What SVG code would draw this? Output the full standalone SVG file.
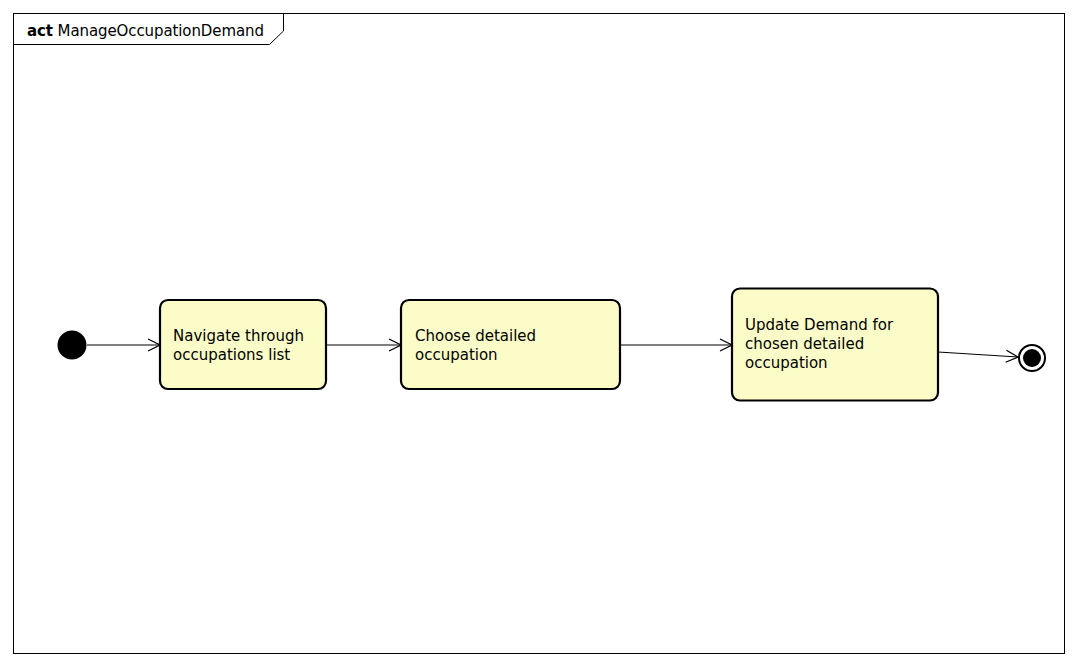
<svg xmlns="http://www.w3.org/2000/svg" width="1078" height="666" viewBox="0 0 1078 666">
<style>
.node rect{fill:#fcfcc8;stroke:#000;stroke-width:2.2}
.lbl{font-family:"DejaVu Sans",sans-serif;font-size:15px;fill:#000}
.conn line{stroke:#000;stroke-width:1.2;fill:none}
</style>
<defs>
<marker id="arr" viewBox="0 0 14 14" refX="13" refY="7" markerWidth="14" markerHeight="14" markerUnits="userSpaceOnUse" orient="auto">
<path d="M1,1 L13,7 L1,13" fill="none" stroke="#000" stroke-width="1.2"/>
</marker>
</defs>
<rect width="1078" height="666" fill="#fff"/>
<g id="frame">
<rect x="13.5" y="13.5" width="1051" height="640" fill="none" stroke="#000" stroke-width="1"/>
<path d="M13.5,44.5 L269.5,44.5 L283.5,31 L283.5,13.5" fill="none" stroke="#000" stroke-width="1"/>
<text x="27" y="36" font-family="DejaVu Sans,sans-serif" font-size="15" fill="#000" textLength="237"><tspan font-weight="bold">act</tspan> ManageOccupationDemand</text>
</g>
<g class="conn" id="connectors">
<line x1="87" y1="345" x2="160" y2="345" marker-end="url(#arr)"/>
<line x1="326" y1="345" x2="401" y2="345" marker-end="url(#arr)"/>
<line x1="620" y1="345" x2="732" y2="345" marker-end="url(#arr)"/>
<line x1="938" y1="352" x2="1018" y2="357" marker-end="url(#arr)"/>
</g>
<g id="initial"><circle cx="72" cy="345" r="14.5" fill="#000"/></g>
<g id="n1" class="node">
<rect x="160" y="300" width="166" height="89" rx="8"/>
<text class="lbl" x="173" y="341">Navigate through</text>
<text class="lbl" x="173" y="360">occupations list</text>
</g>
<g id="n2" class="node">
<rect x="401" y="300" width="219" height="89" rx="8"/>
<text class="lbl" x="415" y="341">Choose detailed</text>
<text class="lbl" x="415" y="360">occupation</text>
</g>
<g id="n3" class="node">
<rect x="732" y="288.5" width="206" height="112" rx="8"/>
<text class="lbl" x="745" y="330">Update Demand for</text>
<text class="lbl" x="745" y="349">chosen detailed</text>
<text class="lbl" x="745" y="368">occupation</text>
</g>
<g id="final">
<circle cx="1032" cy="358" r="13" fill="#fff" stroke="#000" stroke-width="2"/>
<circle cx="1032" cy="358" r="9" fill="#000"/>
</g>
</svg>
